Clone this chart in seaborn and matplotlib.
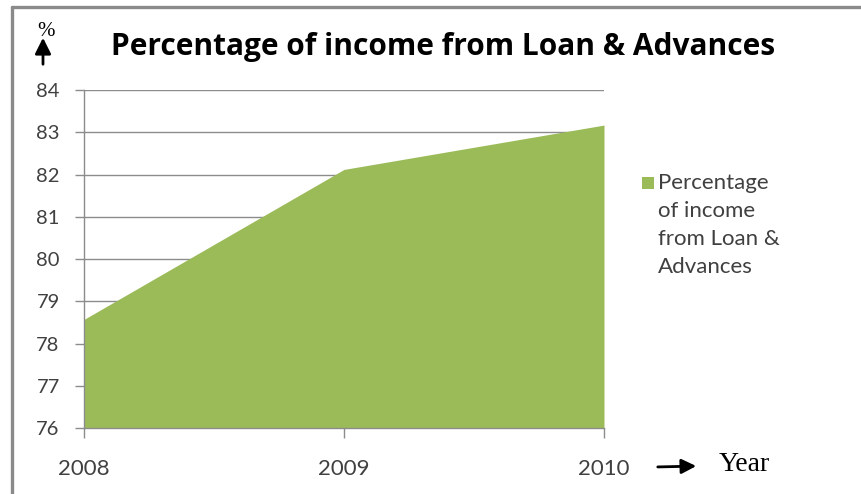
import matplotlib
matplotlib.use("Agg")
import matplotlib.pyplot as plt
import matplotlib.patches as mpatches
import seaborn as sns
import pandas as pd

years = [2008, 2009, 2010]
pct_income = [78.57, 82.12, 83.17]
y_ticks = [76, 77, 78, 79, 80, 81, 82, 83, 84]
legend_label = "Percentage\nof income\nfrom Loan &\nAdvances"
title = "Percentage of income from Loan & Advances"

df = pd.DataFrame({"year": years, "pct": pct_income})

sns.set_theme(style="white")
plt.rcParams["font.family"] = ["Lato", "DejaVu Sans"]

green = "#9BBB59"
grid_gray = "#8C8C8C"
label_gray = "#404040"

fig = plt.figure(figsize=(8.61, 4.94), dpi=100)
ax = fig.add_axes([84 / 861, 1 - 428 / 494, 520 / 861, 338 / 494])

sns.lineplot(data=df, x="year", y="pct", ax=ax, color=green, linewidth=0)
ax.fill_between(df["year"], df["pct"], 76, color=green, linewidth=0, zorder=2)

ax.set_xlim(2008, 2010)
ax.set_ylim(76, 84)
ax.set_xticks(years)
ax.set_xticklabels([str(y) for y in years])
ax.set_yticks(y_ticks)
ax.set_xlabel("")
ax.set_ylabel("")

ax.yaxis.grid(True, color=grid_gray, linewidth=1.0, zorder=1)
ax.xaxis.grid(False)
ax.set_axisbelow(True)

for side in ["top", "right"]:
    ax.spines[side].set_visible(False)
for side in ["left", "bottom"]:
    ax.spines[side].set_color(grid_gray)
    ax.spines[side].set_linewidth(1.0)
    ax.spines[side].set_zorder(3)

ax.tick_params(axis="x", direction="out", length=7, width=1, color=grid_gray,
               pad=15, labelsize=16, labelcolor=label_gray, bottom=True)
ax.tick_params(axis="y", direction="out", length=6.5, width=1, color=grid_gray,
               pad=11, labelsize=14.5, labelcolor=label_gray, left=True)

fig.text(443 / 861, 1 - 47 / 494, title, ha="center", va="center",
         fontsize=21.5, fontweight="bold", family="Open Sans", color="black")

# legend entry to the right of the plot area
fig.add_artist(mpatches.Rectangle((642 / 861, 1 - 189 / 494), 12 / 861, 12 / 494,
                                  transform=fig.transFigure, facecolor=green,
                                  edgecolor="none"))
fig.text(658 / 861, 1 - 173 / 494, legend_label, ha="left", va="top",
         fontsize=16, color=label_gray, linespacing=1.51)

# axis unit markers with arrows
fig.text(46 / 861, 1 - 31 / 494, "%", ha="center", va="center",
         fontsize=15, family="Liberation Serif", color="black")
fig.add_artist(mpatches.FancyArrowPatch(
    (43 / 861, 1 - 67 / 494), (43 / 861, 1 - 35 / 494),
    transform=fig.transFigure, arrowstyle="-|>", mutation_scale=24,
    color="black", linewidth=2.0))
fig.add_artist(mpatches.FancyArrowPatch(
    (655 / 861, 1 - 467 / 494), (699 / 861, 1 - 466 / 494),
    transform=fig.transFigure, arrowstyle="-|>", mutation_scale=22,
    color="black", linewidth=2.0))
fig.text(719 / 861, 1 - 464 / 494, "Year", ha="left", va="center",
         fontsize=20, family="Liberation Serif", color="black")

# outer frame lines along the top and left edges
fig.add_artist(plt.Line2D([12 / 861, 1], [1 - 7 / 494, 1 - 7 / 494],
                          transform=fig.transFigure, color="#8A8A8A", linewidth=2.4))
fig.add_artist(plt.Line2D([12 / 861, 12 / 861], [0, 1 - 7 / 494],
                          transform=fig.transFigure, color="#8A8A8A", linewidth=2.4))

fig.savefig("out.png", dpi=100)
